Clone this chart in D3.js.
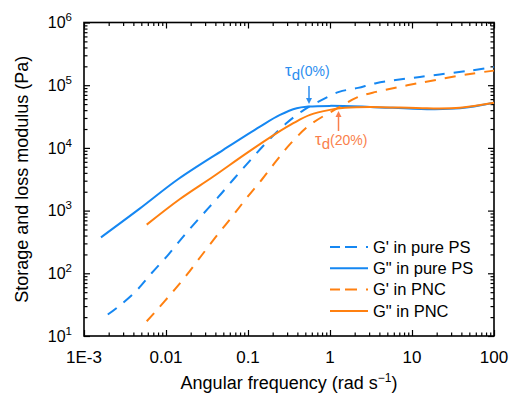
<!DOCTYPE html>
<html>
<head>
<meta charset="utf-8">
<script src="https://cdn.jsdelivr.net/npm/d3@7"></script>
<style>
  body { margin: 0; background: #fff; }
  svg { font-family: 'Liberation Sans', Arial, sans-serif; }
</style>
</head>
<body>
<svg id="chart" width="510" height="393"></svg>
<script>
// G' in pure PS (dashed blue)
const freqGpPS = [0.00195, 0.00251, 0.00419, 0.0067, 0.0107, 0.0167, 0.0267, 0.0435, 0.0675, 0.108, 0.177, 0.301, 0.482, 0.755, 1.29, 2.2, 3.64, 12.5, 50.9, 100];
const modGpPS = [22, 28, 50, 101, 199, 403, 809, 1650, 3220, 6470, 13100, 25400, 40400, 56200, 78200, 90600, 107600, 135600, 170800, 195500];

// G'' in pure PS (solid blue)
const freqGppPS = [0.00161, 0.00482, 0.014, 0.05, 0.14, 0.2455, 0.393, 0.54, 1, 3.08, 15.2, 38.5, 100];
const modGppPS = [374, 1084, 3162, 9330, 21900, 33650, 43000, 45600, 46800, 45100, 41500, 42700, 52300];

// G' in PNC (dashed orange)
const freqGpPNC = [0.00582, 0.0072, 0.0115, 0.018, 0.0267, 0.0396, 0.0621, 0.0964, 0.147, 0.219, 0.334, 0.57, 1.32, 2.14, 3.64, 12.5, 50.9, 100];
const modGpPNC = [17.2, 23.4, 47, 95, 187, 366, 762, 1590, 3105, 6070, 11900, 23300, 45100, 64000, 78200, 108800, 151300, 170800];

// G'' in PNC (solid orange)
const freqGppPNC = [0.00582, 0.0148, 0.0378, 0.0964, 0.224, 0.357, 0.57, 1, 1.52, 3.08, 15.2, 38.5, 100];
const modGppPNC = [597, 1530, 3500, 8260, 17200, 24800, 33650, 40400, 43550, 45100, 42700, 43550, 52300];

const xTickValues = [1e-3, 0.01, 0.1, 1, 10, 100];
const xTickLabels = ['1E-3', '0.01', '0.1', '1', '10', '100'];
const yExponents = [1, 2, 3, 4, 5, 6];

const blue = '#1587f2';
const orange = '#ff8010';

const series = [
  { name: "G' in pure PS", x: freqGpPS, y: modGpPS, color: blue, dashed: true },
  { name: 'G" in pure PS', x: freqGppPS, y: modGppPS, color: blue, dashed: false },
  { name: "G' in PNC", x: freqGpPNC, y: modGpPNC, color: orange, dashed: true },
  { name: 'G" in PNC', x: freqGppPNC, y: modGppPNC, color: orange, dashed: false },
];

const margin = { top: 22.5, right: 16, bottom: 57, left: 84 };
const width = 510 - margin.left - margin.right;
const height = 393 - margin.top - margin.bottom;

const svg = d3.select('#chart');
const g = svg.append('g').attr('transform', `translate(${margin.left},${margin.top})`);

const xScale = d3.scaleLog().domain([1e-3, 100]).range([0, width]);
const yScale = d3.scaleLog().domain([10, 1e6]).range([height, 0]);

const isMajor = (v) => Math.abs(Math.log10(v) - Math.round(Math.log10(v))) < 1e-6;
const xMinor = xScale.ticks().filter((v) => !isMajor(v));
const yMinor = yScale.ticks().filter((v) => !isMajor(v));
const yMajor = yScale.ticks().filter(isMajor);

// ticks on all four sides, pointing inward
function addAxis(axis, transform) {
  const a = g.append('g').attr('transform', transform).call(axis);
  a.select('.domain').remove();
  a.selectAll('.tick line').attr('stroke', '#000').attr('stroke-width', 1.2);
  a.selectAll('.tick text').remove();
}
addAxis(d3.axisBottom(xScale).tickValues(xTickValues).tickSize(-6), `translate(0,${height})`);
addAxis(d3.axisBottom(xScale).tickValues(xMinor).tickSize(-3.5), `translate(0,${height})`);
addAxis(d3.axisTop(xScale).tickValues(xTickValues).tickSize(-6), 'translate(0,0)');
addAxis(d3.axisTop(xScale).tickValues(xMinor).tickSize(-3.5), 'translate(0,0)');
addAxis(d3.axisLeft(yScale).tickValues(yMajor).tickSize(-6), 'translate(0,0)');
addAxis(d3.axisLeft(yScale).tickValues(yMinor).tickSize(-3.5), 'translate(0,0)');
addAxis(d3.axisRight(yScale).tickValues(yMajor).tickSize(-6), `translate(${width},0)`);
addAxis(d3.axisRight(yScale).tickValues(yMinor).tickSize(-3.5), `translate(${width},0)`);

// frame
g.append('rect')
  .attr('width', width)
  .attr('height', height)
  .attr('fill', 'none')
  .attr('stroke', '#000')
  .attr('stroke-width', 1.6);

// x tick labels
g.selectAll('.xlab')
  .data(xTickValues)
  .enter()
  .append('text')
  .attr('x', (d) => xScale(d))
  .attr('y', height + 27)
  .attr('text-anchor', 'middle')
  .attr('font-size', 17)
  .text((d, i) => xTickLabels[i]);

// y tick labels 10^n
yExponents.forEach((e) => {
  const t = g.append('text')
    .attr('x', -12)
    .attr('y', yScale(Math.pow(10, e)) + 5.8)
    .attr('text-anchor', 'end')
    .attr('font-size', 16);
  t.append('tspan').text('10');
  t.append('tspan').attr('font-size', 11.5).attr('dy', -7).text(e);
});

// axis titles
const xt = svg.append('text')
  .attr('x', margin.left + width / 2)
  .attr('y', 389)
  .attr('text-anchor', 'middle')
  .attr('font-size', 18);
xt.append('tspan').text('Angular frequency (rad s');
xt.append('tspan').attr('font-size', 12).attr('dy', -7).text('\u22121');
xt.append('tspan').attr('dy', 7).text(')');

svg.append('text')
  .attr('transform', `translate(28,${margin.top + height / 2}) rotate(-90)`)
  .attr('text-anchor', 'middle')
  .attr('font-size', 18)
  .text('Storage and loss modulus (Pa)');

// curves
const line = d3.line()
  .x((d) => xScale(d[0]))
  .y((d) => yScale(d[1]))
  .curve(d3.curveCatmullRom.alpha(0.5));

series.forEach((s) => {
  g.append('path')
    .datum(d3.zip(s.x, s.y))
    .attr('fill', 'none')
    .attr('stroke', s.color)
    .attr('stroke-width', 2)
    .attr('stroke-dasharray', s.dashed ? '11,9' : null)
    .attr('d', line);
});

// tau_d annotations
function annotate(label, color, tx, ty, ax, aFrom, aTo) {
  const t = g.append('text')
    .attr('x', tx - margin.left)
    .attr('y', ty - margin.top)
    .attr('fill', color)
    .attr('font-size', 14);
  t.append('tspan').attr('font-size', 17).text('\u03c4');
  t.append('tspan').attr('dy', 4).attr('font-size', 15).text('d');
  t.append('tspan').attr('dy', -4).text(label);

  const x0 = ax - margin.left;
  const y0 = aFrom - margin.top;
  const y1 = aTo - margin.top;
  const dir = y1 > y0 ? 1 : -1;
  g.append('line')
    .attr('x1', x0).attr('x2', x0)
    .attr('y1', y0).attr('y2', y1 - dir * 5)
    .attr('stroke', color)
    .attr('stroke-width', 1.5);
  g.append('path')
    .attr('d', `M${x0 - 3},${y1 - dir * 6} L${x0 + 3},${y1 - dir * 6} L${x0},${y1} Z`)
    .attr('fill', color);
}
annotate('(0%)', '#2b8def', 285, 76, 309, 86, 104);
annotate('(20%)', '#fa7f4c', 315, 145, 338.5, 131, 111);

// legend
const legend = g.append('g')
  .attr('transform', `translate(${330 - margin.left},${247 - margin.top})`);
series.forEach((s, i) => {
  const row = legend.append('g').attr('transform', `translate(0,${i * 21.3})`);
  row.append('line')
    .attr('x1', 0).attr('x2', 38)
    .attr('stroke', s.color)
    .attr('stroke-width', 2)
    .attr('stroke-dasharray', s.dashed ? '10,5,12,9,2' : null);
  row.append('text')
    .attr('x', 43)
    .attr('y', 0)
    .attr('dy', '0.35em')
    .attr('font-size', 16.5)
    .text(s.name);
});
</script>
</body>
</html>
